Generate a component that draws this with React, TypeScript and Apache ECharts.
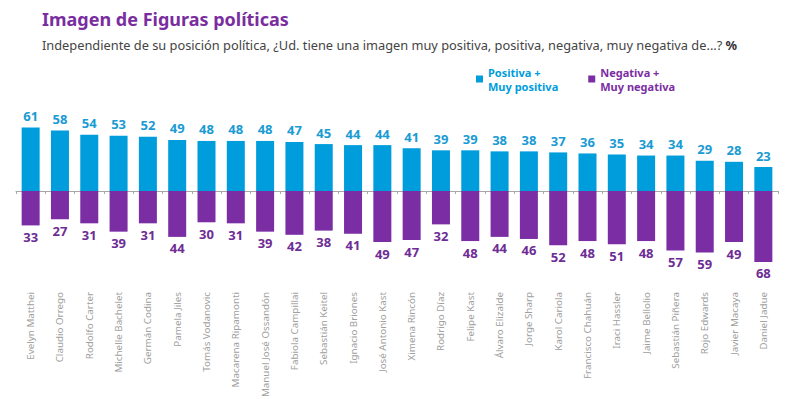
import React, { useEffect, useRef } from "react";
import * as echarts from "echarts";

const names = [
  "Evelyn Matthei", "Claudio Orrego", "Rodolfo Carter", "Michelle Bachelet", "Germán Codina",
  "Pamela Jiles", "Tomás Vodanovic", "Macarena Ripamonti", "Manuel José Ossandón", "Fabiola Campillai",
  "Sebastián Keitel", "Ignacio Briones", "José Antonio Kast", "Ximena Rincón", "Rodrigo Díaz",
  "Felipe Kast", "Álvaro Elizalde", "Jorge Sharp", "Karol Cariola", "Francisco Chahuán",
  "Iraci Hassler", "Jaime Bellolio", "Sebastián Piñera", "Rojo Edwards", "Javier Macaya", "Daniel Jadue",
];
const positiva = [61, 58, 54, 53, 52, 49, 48, 48, 48, 47, 45, 44, 44, 41, 39, 39, 38, 38, 37, 36, 35, 34, 34, 29, 28, 23];
const negativa = [33, 27, 31, 39, 31, 44, 30, 31, 39, 42, 38, 41, 49, 47, 32, 48, 44, 46, 52, 48, 51, 48, 57, 59, 49, 68];

const BLUE = "#009ddc";
const PURPLE = "#7b2ea4";
const FONT = "'Noto Sans', sans-serif";

export default function App() {
  const ref = useRef<HTMLDivElement>(null);
  useEffect(() => {
    const chart = echarts.init(ref.current!, null, { renderer: "svg" });
    chart.setOption({
      animation: false,
      backgroundColor: "#ffffff",
      textStyle: { fontFamily: FONT },
      title: [
        {
          text: "Imagen de Figuras políticas",
          left: 37,
          top: 5,
          textStyle: { fontSize: 18, fontWeight: "bold", color: "#7a2d9f", fontFamily: FONT },
        },
        {
          text: "Independiente de su posición política, ¿Ud. tiene una imagen muy positiva, positiva, negativa, muy negativa de...? {b|%}",
          left: 37,
          top: 33,
          textStyle: {
            fontSize: 12.8,
            fontWeight: "normal",
            color: "#444444",
            fontFamily: FONT,
            rich: { b: { fontSize: 12.8, fontWeight: "bold", color: "#333333", fontFamily: FONT } },
          },
        },
      ],
      legend: {
        left: 471,
        top: 53,
        itemWidth: 7,
        itemHeight: 7,
        itemGap: 30,
        icon: "rect",
        data: [
          { name: "Positiva +\nMuy positiva", textStyle: { color: BLUE } },
          { name: "Negativa +\nMuy negativa", textStyle: { color: PURPLE } },
        ],
        textStyle: { fontSize: 11, fontWeight: "bold", lineHeight: 14, padding: [14, 0, 0, 0], fontFamily: FONT },
      },
      grid: { left: 16, right: 22, top: 118, bottom: 135, outerBoundsMode: "none", containLabel: false },
      xAxis: {
        type: "category",
        data: names,
        axisLine: { onZero: true, lineStyle: { color: "#a8a8a8", width: 1 } },
        axisTick: { show: true, length: 3, lineStyle: { color: "#a8a8a8" } },
        axisLabel: { rotate: 90, margin: 28, fontSize: 9.8, color: "#a0a0a0", interval: 0 },
      },
      yAxis: {
        type: "value",
        min: -70,
        max: 70,
        show: false,
        splitLine: { show: false },
      },
      series: [
        {
          name: "Positiva +\nMuy positiva",
          type: "bar",
          data: positiva,
          barWidth: 18,
          barGap: "-100%",
          itemStyle: { color: BLUE },
          label: {
            show: true,
            position: "top",
            distance: 5,
            color: "#1a9bd3",
            fontSize: 13,
            fontWeight: "bold",
          },
        },
        {
          name: "Negativa +\nMuy negativa",
          type: "bar",
          data: negativa.map((v) => -v),
          barWidth: 18,
          itemStyle: { color: PURPLE },
          label: {
            show: true,
            position: "bottom",
            distance: 5,
            color: "#6e2d95",
            fontSize: 13,
            fontWeight: "bold",
            formatter: (p: any) => String(Math.abs(p.value)),
          },
        },
      ],
    });
    return () => chart.dispose();
  }, []);
  return <div ref={ref} style={{ width: 800, height: 399, position: "absolute", left: 0, top: 0 }} />;
}
